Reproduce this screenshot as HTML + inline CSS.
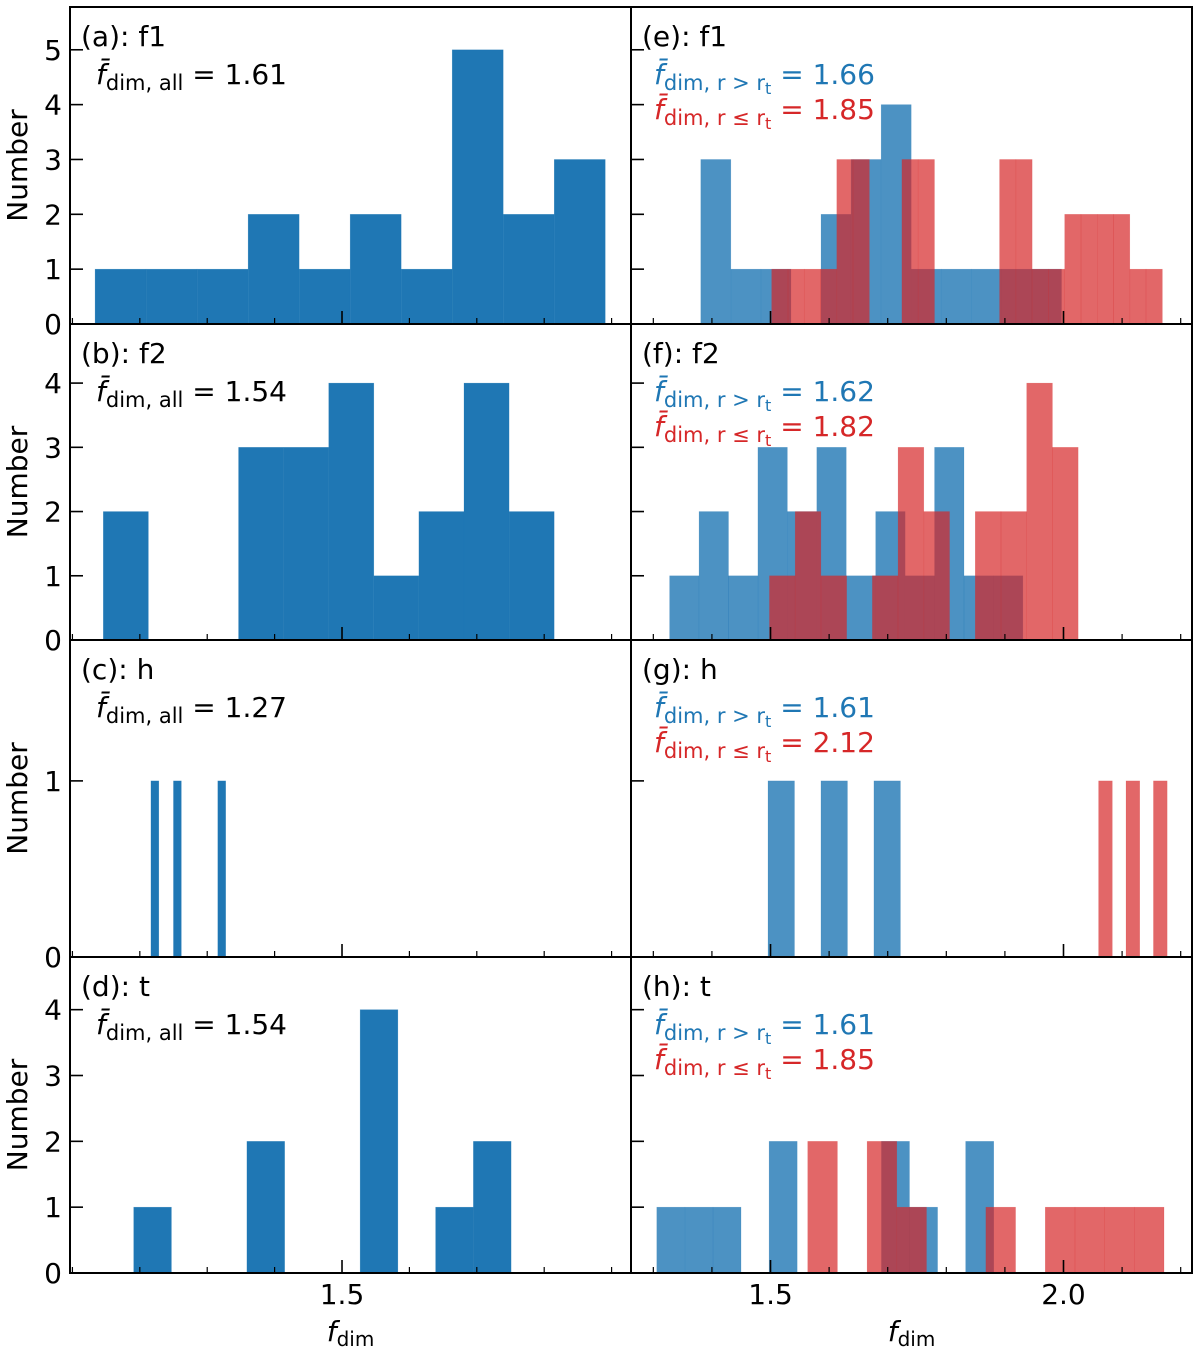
<!DOCTYPE html>
<html><head><meta charset="utf-8"><style>
body{margin:0;background:#fff;}
svg{display:block;font-family:"DejaVu Sans","Liberation Sans",sans-serif;}
</style></head><body>
<svg id="chart" width="1200" height="1351" viewBox="0 0 1200 1351"></svg>
<script>
// ---- data (bin start, bin width, counts) ----
const aStart=1.1336, aWidth=0.0757, aCounts=[1,1,1,2,1,2,1,5,2,3];
const bStart=1.1458, bWidth=0.0669, bCounts=[2,0,0,3,3,4,1,2,4,2];
const cLefts=[1.2165,1.2499,1.3157], cWidth=0.0117, cCounts=[1,1,1];
const dStart=1.1909, dWidth=0.0560, dCounts=[1,0,0,2,0,0,4,0,1,2];
const eBlueStart=1.381, eBlueWidth=0.0513, eBlueCounts=[3,1,1,0,2,3,4,1,1,1,1,1];
const eRedStart=1.502, eRedWidth=0.02778, eRedCounts=[1,1,1,1,3,3,0,0,3,3,0,0,0,0,3,3,1,1,2,2,2,2,1,1];
const fBlueStart=1.3278, fBlueWidth=0.05024, fBlueCounts=[1,2,1,3,2,3,1,2,1,3,1,1];
const fRedStart=1.4982, fRedWidth=0.0439, fRedCounts=[1,2,1,0,1,3,2,0,2,2,4,3];
const gBlueStart=1.4957, gBlueWidth=0.0452, gBlueCounts=[1,0,1,0,1];
const gRedStart=2.0599, gRedWidth=0.0234, gRedCounts=[1,0,1,0,1];
const hBlueStart=1.3059, hBlueWidth=0.04792, hBlueCounts=[1,1,1,0,2,0,0,0,2,1,0,2];
const hRedStart=1.5635, hRedWidth=0.05067, hRedCounts=[2,0,2,1,0,0,1,0,1,1,1,1];
const rowYMax=[5.78,4.92,1.8,4.8];
const rowYTicks=[[0,1,2,3,4,5],[0,1,2,3,4],[0,1],[0,1,2,3,4]];
const leftXDomain=[1.0964,1.9288], rightXDomain=[1.2619,2.2193];
const leftMajor=[1.5], rightMajor=[1.5,2.0];
const leftMinor=[1.1,1.2,1.3,1.4,1.6,1.7,1.8,1.9];
const rightMinor=[1.3,1.4,1.6,1.7,1.8,1.9,2.1,2.2];
const titlesL=["(a): f1","(b): f2","(c): h","(d): t"];
const titlesR=["(e): f1","(f): f2","(g): h","(h): t"];
const meansAll=["1.61","1.54","1.27","1.54"];
const meansOut=["1.66","1.62","1.61","1.61"];
const meansIn=["1.85","1.82","2.12","1.85"];

// ---- layout ----
const NS="http://www.w3.org/2000/svg";
const svg=document.getElementById('chart');
const colX=[[70,631],[631,1192]];
const rowY=[7,324,640,957,1273];
function mk(tag,attrs,parent){const e=document.createElementNS(NS,tag);for(const k in attrs)e.setAttribute(k,attrs[k]);(parent||svg).appendChild(e);return e;}
function xScale(col,v){const d=col===0?leftXDomain:rightXDomain;const r=colX[col];return r[0]+(v-d[0])/(d[1]-d[0])*(r[1]-r[0]);}
function yScale(row,v){const y0=rowY[row+1],y1=rowY[row];return y0-(v/rowYMax[row])*(y0-y1);}

function drawHist(row,col,lefts,width,counts,fill,opacity,name){
  const g=mk('g',{});
  
  
  counts.forEach((c,i)=>{
    if(!c)return;
    const x0=xScale(col,lefts[i]),x1=xScale(col,lefts[i]+width);
    const y=yScale(row,c),yb=yScale(row,0);
    const r=mk('rect',{x:x0,y:y,width:x1-x0,height:yb-y,fill:fill,'fill-opacity':opacity,stroke:fill,'stroke-opacity':opacity*0.4,'stroke-width':0.5},g);
    
    
  });
}
function uni(start,width,n){const a=[];for(let i=0;i<n;i++)a.push(start+i*width);return a;}
const BLUE="#1f77b4",RED="#d62728";
drawHist(0,0,uni(aStart,aWidth,aCounts.length),aWidth,aCounts,BLUE,1,'hist-a-f1');
drawHist(1,0,uni(bStart,bWidth,bCounts.length),bWidth,bCounts,BLUE,1,'hist-b-f2');
drawHist(2,0,cLefts,cWidth,cCounts,BLUE,1,'hist-c-h');
drawHist(3,0,uni(dStart,dWidth,dCounts.length),dWidth,dCounts,BLUE,1,'hist-d-t');
const rb=[[eBlueStart,eBlueWidth,eBlueCounts,eRedStart,eRedWidth,eRedCounts,'e'],
          [fBlueStart,fBlueWidth,fBlueCounts,fRedStart,fRedWidth,fRedCounts,'f'],
          [gBlueStart,gBlueWidth,gBlueCounts,gRedStart,gRedWidth,gRedCounts,'g'],
          [hBlueStart,hBlueWidth,hBlueCounts,hRedStart,hRedWidth,hRedCounts,'h']];
rb.forEach((p,row)=>{
  drawHist(row,1,uni(p[0],p[1],p[2].length),p[1],p[2],BLUE,0.8,'hist-'+p[6]+'-outer');
  drawHist(row,1,uni(p[3],p[4],p[5].length),p[4],p[5],RED,0.7,'hist-'+p[6]+'-inner');
});

// ---- axes, ticks, text ----
for(let row=0;row<4;row++){
  for(let col=0;col<2;col++){
    const x0=colX[col][0],x1=colX[col][1],yt=rowY[row],yb=rowY[row+1];
    rowYTicks[row].forEach(t=>{
      const y=yScale(row,t);
      mk('line',{x1:x0,x2:x0+13,y1:y,y2:y,stroke:'#000','stroke-width':1.6});
      if(col===0){
        const tx=mk('text',{x:x0-8,y:y+10,'font-size':28,'text-anchor':'end'});
        tx.textContent=t;
        
        
      }
    });
    (col===0?leftMajor:rightMajor).forEach(t=>{const x=xScale(col,t);mk('line',{x1:x,x2:x,y1:yb,y2:yb-13,stroke:'#000','stroke-width':1.6});});
    (col===0?leftMinor:rightMinor).forEach(t=>{const x=xScale(col,t);mk('line',{x1:x,x2:x,y1:yb,y2:yb-6,stroke:'#000','stroke-width':1.2});});
    const fr=mk('rect',{x:x0,y:yt,width:x1-x0,height:yb-yt,fill:'none',stroke:'#000','stroke-width':2});
    
    
    const tt=mk('text',{x:x0+11,y:yt+39,'font-size':28});
    tt.textContent=(col===0?titlesL:titlesR)[row];
    
    
  }
  const yt=rowY[row];
  const m=mk('text',{x:96,y:yt+77,'font-size':28});
  m.innerHTML='<tspan font-style="italic">f̄</tspan><tspan font-size="21" dy="6">dim, all</tspan><tspan dy="-6"> = '+meansAll[row]+'</tspan>';
  
  
  const mo=mk('text',{x:654,y:yt+77,'font-size':28,fill:'#1f77b4'});
  mo.innerHTML='<tspan font-style="italic">f̄</tspan><tspan font-size="21" dy="6">dim, r &gt; r</tspan><tspan font-size="16" dy="4">t</tspan><tspan dy="-10"> = '+meansOut[row]+'</tspan>';
  
  
  const mi=mk('text',{x:654,y:yt+112,'font-size':28,fill:'#d62728'});
  mi.innerHTML='<tspan font-style="italic">f̄</tspan><tspan font-size="21" dy="6">dim, r ≤ r</tspan><tspan font-size="16" dy="4">t</tspan><tspan dy="-10"> = '+meansIn[row]+'</tspan>';
  
  
  const cy=(rowY[row]+rowY[row+1])/2;
  const yl=mk('text',{x:0,y:0,'font-size':28,'text-anchor':'middle',transform:'translate(27,'+cy+') rotate(-90)'});
  yl.textContent='Number';
  
  
}
[[0,leftMajor],[1,rightMajor]].forEach(([col,ticks])=>{
  ticks.forEach(t=>{
    const l=mk('text',{x:xScale(col,t),y:1304,'font-size':28,'text-anchor':'middle'});
    l.textContent=t.toFixed(1);
    
    
  });
  const xt=mk('text',{x:(colX[col][0]+colX[col][1])/2,y:1341,'font-size':28,'text-anchor':'middle'});
  xt.innerHTML='<tspan font-style="italic">f</tspan><tspan font-size="20" dy="5">dim</tspan>';
  
  
});
</script>
</body></html>
